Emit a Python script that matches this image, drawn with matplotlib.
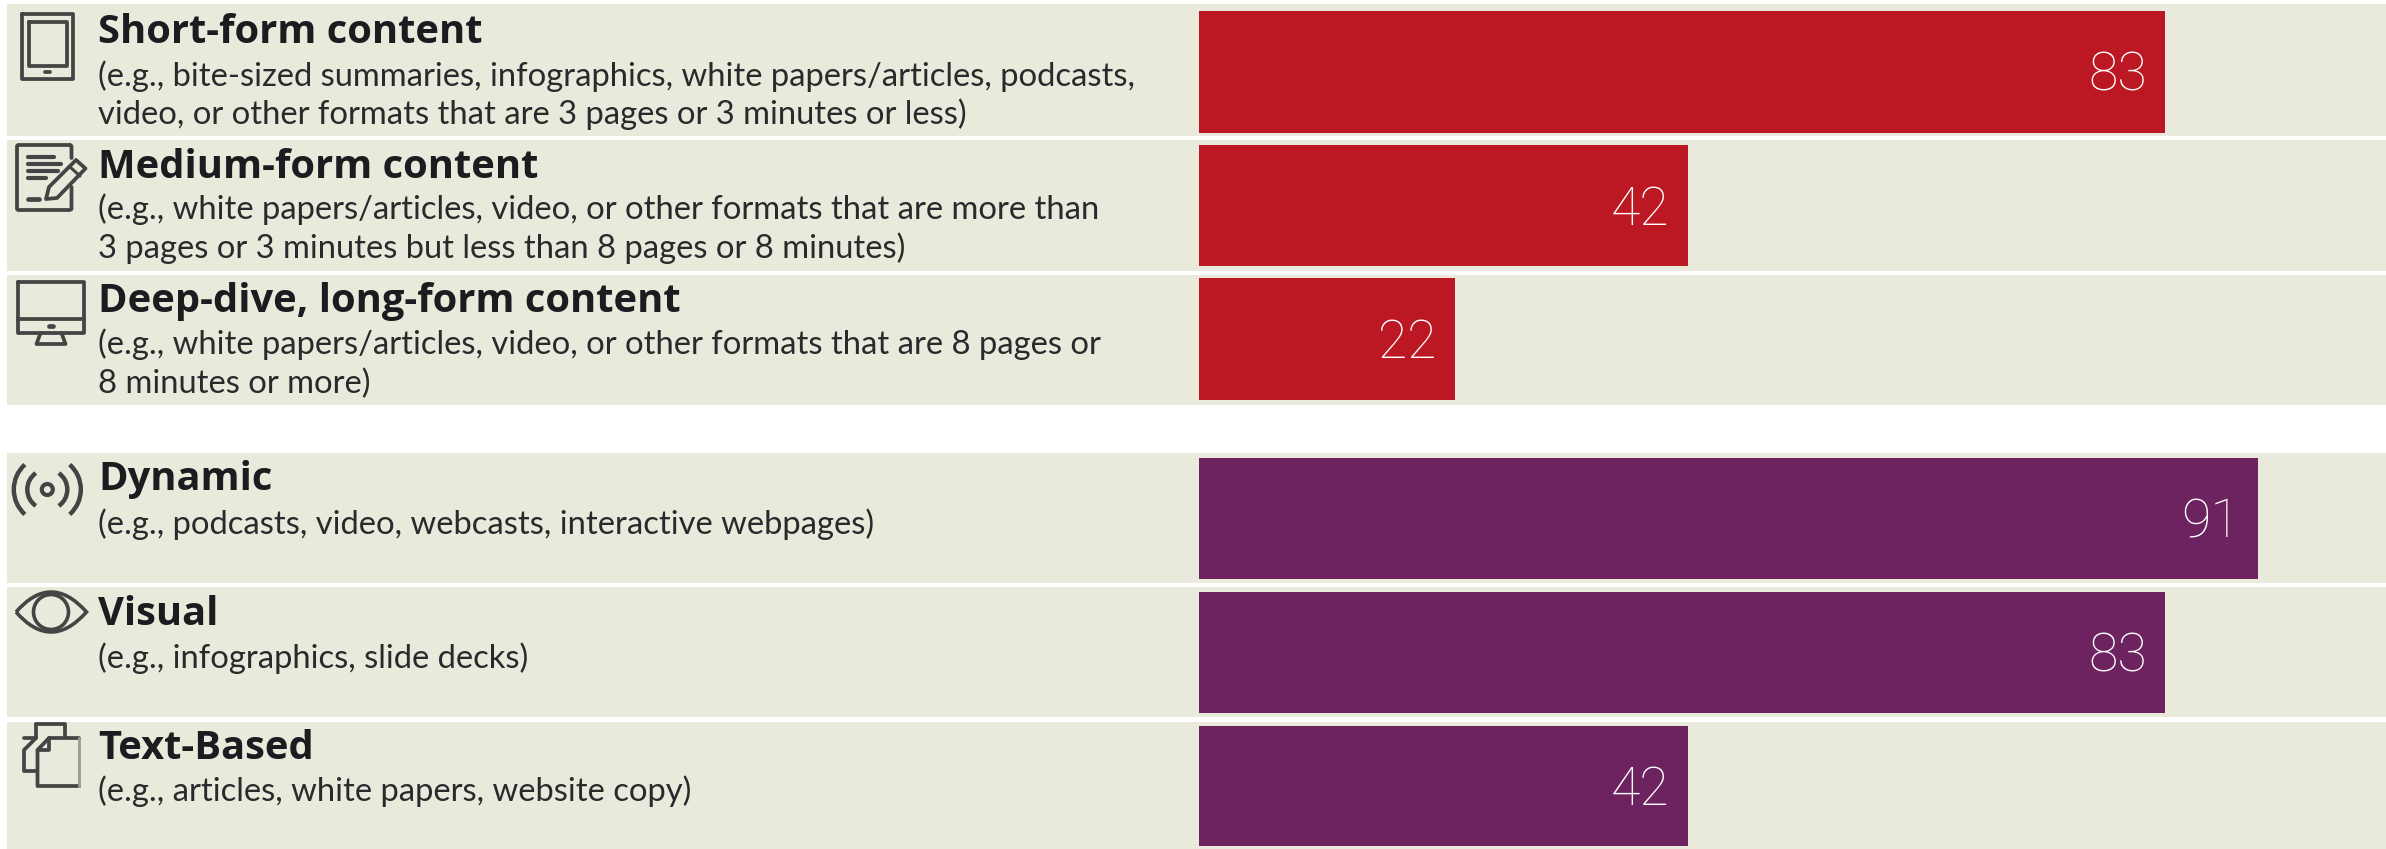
import matplotlib
matplotlib.use('Agg')
import matplotlib.pyplot as plt
from matplotlib.patches import Rectangle, Circle, Arc, Polygon, PathPatch
from matplotlib.path import Path

categories = ['Short-form content', 'Medium-form content', 'Deep-dive, long-form content',
              'Dynamic', 'Visual', 'Text-Based']
details = [
    ['(e.g., bite-sized summaries, infographics, white papers/articles, podcasts,',
     'video, or other formats that are 3 pages or 3 minutes or less)'],
    ['(e.g., white papers/articles, video, or other formats that are more than',
     '3 pages or 3 minutes but less than 8 pages or 8 minutes)'],
    ['(e.g., white papers/articles, video, or other formats that are 8 pages or',
     '8 minutes or more)'],
    ['(e.g., podcasts, video, webcasts, interactive webpages)'],
    ['(e.g., infographics, slide decks)'],
    ['(e.g., articles, white papers, website copy)'],
]
values = [83, 42, 22, 91, 83, 42]

RED = '#bc1823'
PURPLE = '#6d2360'
BAND = '#e9e9dc'
INK = '#1c1c20'
ICON = '#444444'
bar_colors = [RED, RED, RED, PURPLE, PURPLE, PURPLE]

W, H = 2386, 849
band_tops = [4, 140, 275, 453, 587, 722]
band_bottoms = [136, 271, 405, 583, 717, 849]
bar_tops = [10.5, 144.5, 278, 458, 592, 726]
bar_bottoms = [132.5, 266, 400, 579, 713, 846]
head_base = [43, 178, 312, 490, 625, 759]
sub_base = [[86, 124], [219, 258], [354, 393], [534], [668], [801]]

fig = plt.figure(figsize=(W / 100, H / 100), dpi=100, facecolor='white')

# page layer in pixels, for the bands, text and icons
page = fig.add_axes([0, 0, 1, 1])
page.set_xlim(0, W)
page.set_ylim(H, 0)
page.axis('off')

# bars get their own value axis, same vertical pixel scale
bar_left = 1199
px_per_unit = 11.635
ax = fig.add_axes([bar_left / W, 0, 1 - bar_left / W, 1])
ax.set_xlim(0, (W - bar_left) / px_per_unit)
ax.set_ylim(H, 0)
ax.axis('off')
ax.patch.set_alpha(0)

for top, bottom in zip(band_tops, band_bottoms):
    page.add_patch(Rectangle((7, top), W - 7, bottom - top, fc=BAND, ec='none'))

centers = [(a + b) / 2 for a, b in zip(bar_tops, bar_bottoms)]
heights = [b - a for a, b in zip(bar_tops, bar_bottoms)]
ax.barh(centers, values, height=heights, color=bar_colors, linewidth=0)

for y, v in zip(centers, values):
    ax.annotate(str(v), (v, y - 1), xytext=(-13, 0), textcoords='offset points',
                ha='right', va='center_baseline', color='white', fontsize=38.5,
                family='Roboto', weight='light')

for i, name in enumerate(categories):
    page.text(98, head_base[i], name, fontsize=28.7, family='Open Sans', weight='bold',
              color=INK, va='baseline')
    for line, y in zip(details[i], sub_base[i]):
        page.text(98, y, line, fontsize=23.55, family='Lato', color='#2a2a2c', va='baseline')


def stroke(xs, ys, lw=2.7):
    page.plot(xs, ys, color=ICON, lw=lw, solid_capstyle='round', solid_joinstyle='round')


def box(x0, y0, x1, y1, lw=2.7):
    stroke([x0, x1, x1, x0, x0], [y0, y0, y1, y1, y0], lw)


# tablet
box(22, 14, 73, 79)
box(28.5, 21.5, 67, 66)
stroke([44.5, 50], [72, 72])

# document and pencil
stroke([70, 71.5, 71.5], [145, 146, 158])
stroke([71.5, 71.5, 70, 18, 17, 17, 18, 70], [187, 209, 210, 210, 209, 146, 145, 145])
for y, x1 in zip([157, 164, 170.5, 178], [54, 61, 58, 46]):
    stroke([27.5, x1], [y, y], 3.0)
stroke([28, 39], [199, 199], 3.4)
page.add_patch(Polygon([(76, 160), (85.5, 168.5), (57, 198), (46, 199), (49, 187)],
                       closed=True, fc='none', ec=ICON, lw=2.7, joinstyle='round'))
stroke([70, 80], [167, 176], 2.2)

# monitor
box(18, 281.5, 84, 333)
stroke([18, 84], [319, 319])
stroke([49, 53], [326, 326], 3.4)
stroke([40.5, 36.5, 65.5, 61.5], [333, 344, 344, 333])

# signal waves
cx, cy = 47.3, 489.5
page.add_patch(Circle((cx, cy), 5.5, fc='none', ec=ICON, lw=3.0))
for r, span in [(20, 55), (33.5, 48)]:
    page.add_patch(Arc((cx, cy), 2 * r, 2 * r, theta1=-span, theta2=span, ec=ICON, lw=3.2))
    page.add_patch(Arc((cx, cy), 2 * r, 2 * r, theta1=180 - span, theta2=180 + span, ec=ICON, lw=3.2))

# eye
ex0, ex1, ey = 16, 86.5, 612
eye = Path([(ex0, ey), (51, ey - 40), (ex1, ey), (51, ey + 40), (ex0, ey)],
           [Path.MOVETO, Path.CURVE3, Path.CURVE3, Path.CURVE3, Path.CURVE3])
page.add_patch(PathPatch(eye, fc='none', ec=ICON, lw=2.6))
page.add_patch(Circle((51, ey), 17.5, fc='none', ec=ICON, lw=2.6))

# stacked pages
stroke([36, 24, 24, 36], [738, 750, 771, 771])
stroke([36, 65, 65], [724, 724, 736])
stroke([36, 36, 24], [724, 738, 738])
stroke([79, 49, 37.5, 37.5, 79], [738, 738, 750, 786, 786])
stroke([49, 49, 38], [738, 750, 750])
page.plot([79, 79], [738, 786], color='#9a9a90', lw=2.0)

fig.savefig('out.png', dpi=100, facecolor='white')
